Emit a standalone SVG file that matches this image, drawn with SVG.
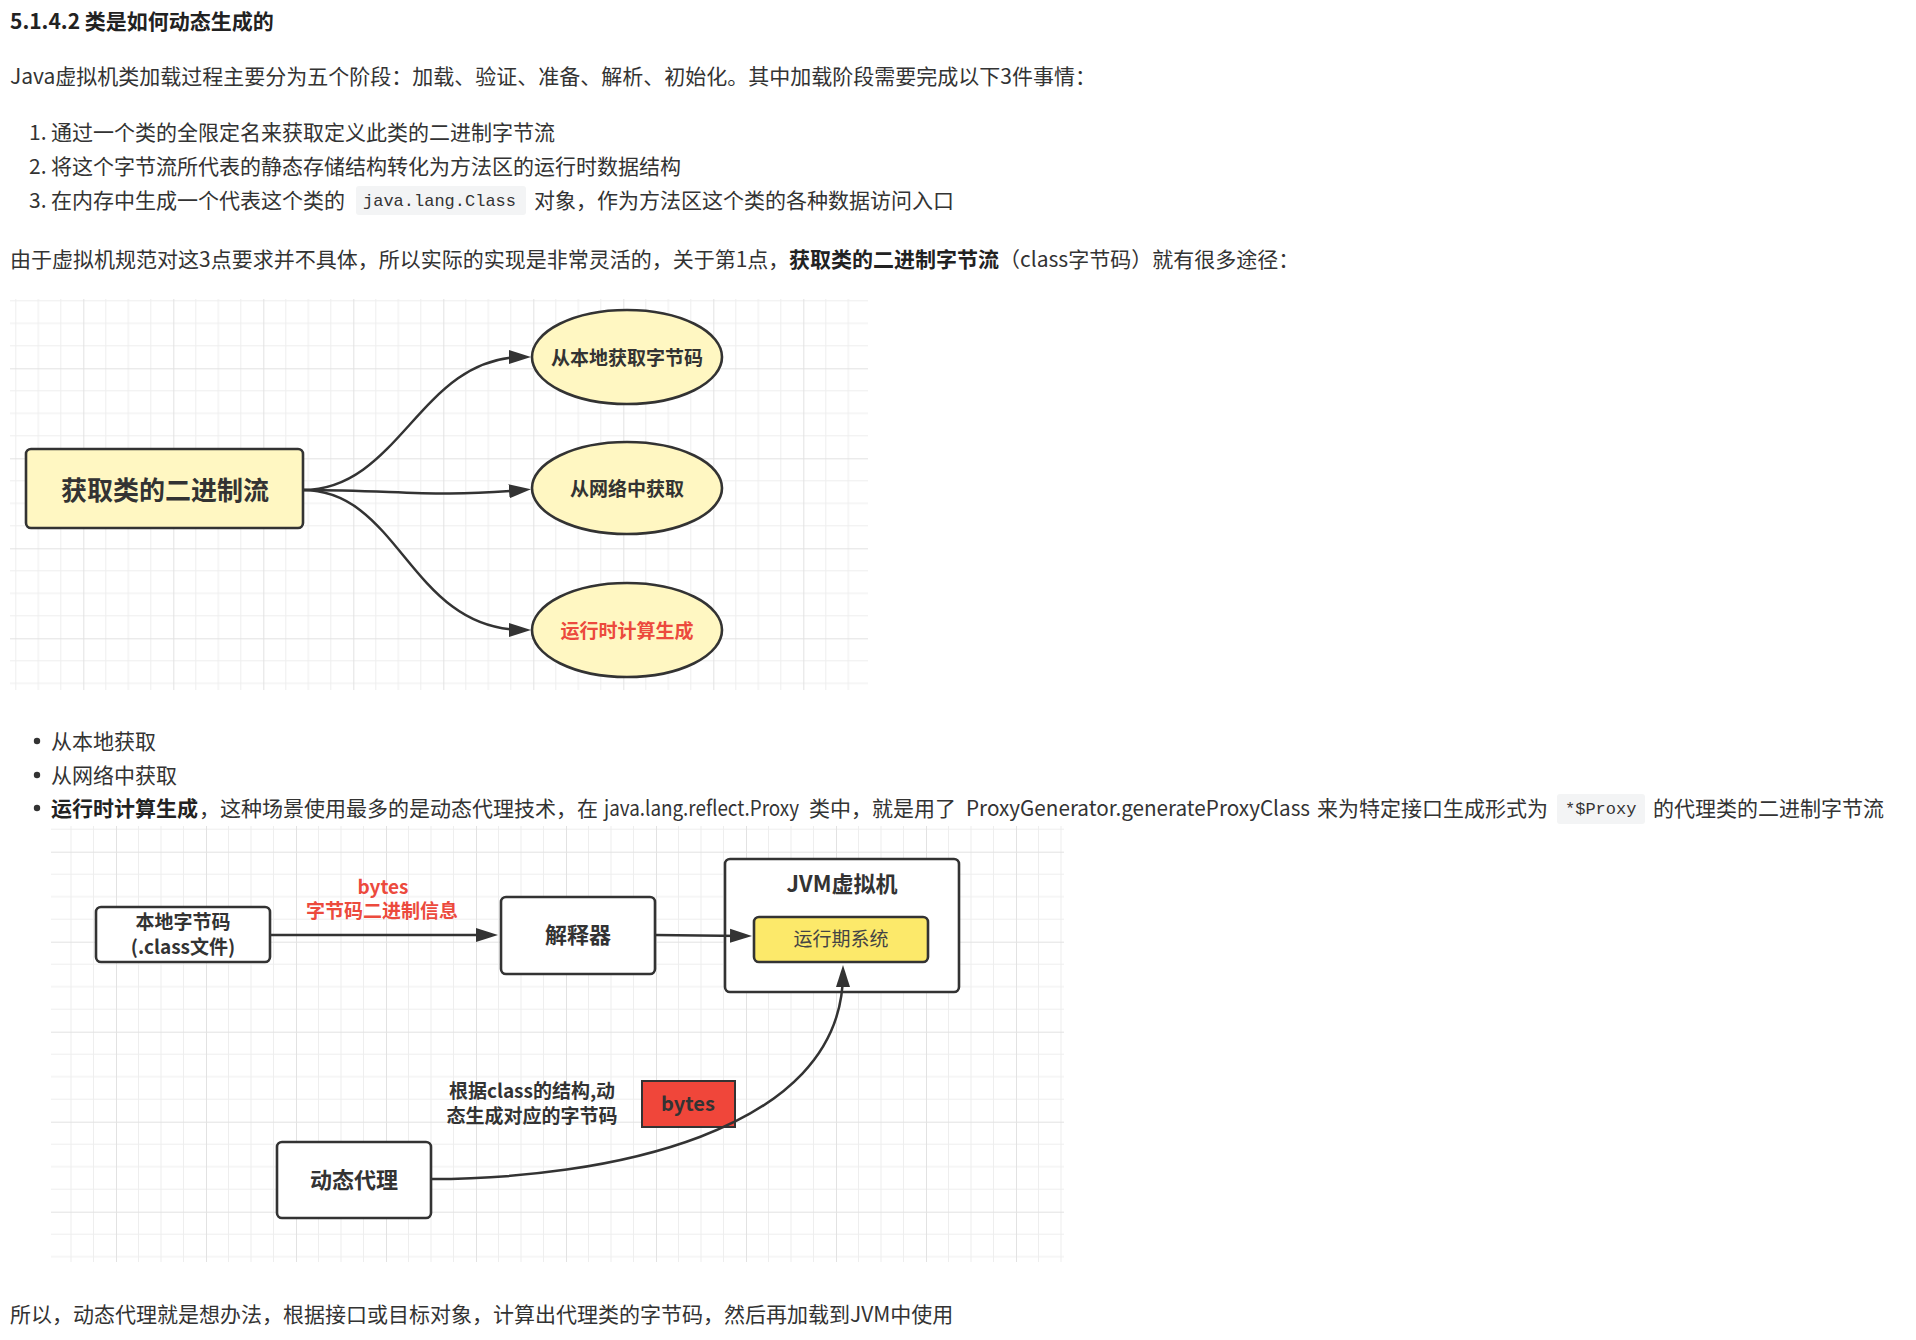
<svg xmlns="http://www.w3.org/2000/svg" width="1916" height="1340" viewBox="0 0 1916 1340">
  <style>
    .body { font-family: "Noto Sans CJK SC", "Noto Sans", sans-serif; font-size: 21px; fill: #333; }
    .h { font-family: "Noto Sans CJK SC", sans-serif; font-size: 21px; font-weight: 700; fill: #222; }
    .b { font-weight: 700; fill: #222; }
    .code { font-family: "Liberation Mono", "DejaVu Sans Mono", monospace; font-size: 17px; fill: #333; }
    .codebg { fill: #f3f4f5; }
    .lbl { font-family: "Noto Sans CJK SC", sans-serif; font-weight: 700; fill: #333; text-anchor: middle; dominant-baseline: central; }
    .red { fill: #ec4a3d; }
    .thin { font-weight: 400; fill: #444; }
    .shape { stroke: #333; stroke-width: 2.6; }
    .note { fill: #fff7c2; }
    .plain { fill: #fff; }
    .edge { fill: none; stroke: #333; stroke-width: 2.5; marker-end: url(#arrow); }
  </style>
  <defs>
    <marker id="arrow" viewBox="0 0 22 16" markerWidth="22" markerHeight="16" markerUnits="userSpaceOnUse" refX="14" refY="8" orient="auto">
      <path d="M0,1 L22,8 L0,15 z" fill="#333"/>
    </marker>
    <pattern id="grid1" patternUnits="userSpaceOnUse" x="83.3" y="368.3" width="90" height="90">
      <rect width="90" height="90" fill="#fff"/>
      <path d="M22.5 0V90M45 0V90M67.5 0V90M0 22.5H90M0 45H90M0 67.5H90" stroke="#eeeeee" stroke-width="1"/>
      <path d="M0.5 0V90M0 0.5H90" stroke="#e2e2e2" stroke-width="1"/>
    </pattern>
    <pattern id="grid2" patternUnits="userSpaceOnUse" x="116" y="851.7" width="90" height="90">
      <rect width="90" height="90" fill="#fff"/>
      <path d="M22.5 0V90M45 0V90M67.5 0V90M0 22.5H90M0 45H90M0 67.5H90" stroke="#eeeeee" stroke-width="1"/>
      <path d="M0.5 0V90M0 0.5H90" stroke="#e2e2e2" stroke-width="1"/>
    </pattern>
  </defs>

  <rect width="1916" height="1340" fill="#fff"/>

  <!-- article text -->
  <text class="h" x="10" y="28.5">5.1.4.2 类是如何动态生成的</text>
  <text class="body" x="10" y="84">Java虚拟机类加载过程主要分为五个阶段：加载、验证、准备、解析、初始化。其中加载阶段需要完成以下3件事情：</text>

  <text class="body" x="29" y="140">1.</text>
  <text class="body" x="51" y="140">通过一个类的全限定名来获取定义此类的二进制字节流</text>
  <text class="body" x="29" y="174">2.</text>
  <text class="body" x="51" y="174">将这个字节流所代表的静态存储结构转化为方法区的运行时数据结构</text>
  <text class="body" x="29" y="208">3.</text>
  <text class="body" x="51" y="208">在内存中生成一个代表这个类的</text>
  <rect class="codebg" x="356" y="186" width="170" height="29" rx="3"/>
  <text class="code" x="363" y="206">java.lang.Class</text>
  <text class="body" x="534" y="208">对象，作为方法区这个类的各种数据访问入口</text>

  <text class="body" x="10" y="267">由于虚拟机规范对这3点要求并不具体，所以实际的实现是非常灵活的，关于第1点，</text>
  <text class="body b" x="789" y="267">获取类的二进制字节流</text>
  <text class="body" x="999" y="267">（class字节码）就有很多途径：</text>

  <!-- sources of the class byte stream -->
  <rect x="10" y="299" width="858" height="391" fill="url(#grid1)"/>
  <g id="d1-source">
    <rect class="shape note" x="26" y="449" width="277" height="79" rx="5"/>
    <text class="lbl" x="165" y="488.5" font-size="26">获取类的二进制流</text>
  </g>
  <g id="d1-local">
    <ellipse class="shape note" cx="627" cy="357" rx="95" ry="47"/>
    <text class="lbl" x="627" y="356" font-size="19">从本地获取字节码</text>
  </g>
  <g id="d1-network">
    <ellipse class="shape note" cx="627" cy="488" rx="95" ry="46"/>
    <text class="lbl" x="627" y="487" font-size="19">从网络中获取</text>
  </g>
  <g id="d1-runtime">
    <ellipse class="shape note" cx="627" cy="630" rx="95" ry="47"/>
    <text class="lbl red" x="627" y="629" font-size="19">运行时计算生成</text>
  </g>
  <g id="d1-edges">
    <path class="edge" d="M303,490 C 400,490 420,357 523,357"/>
    <path class="edge" d="M303,490 C 400,490 430,498 523,490"/>
    <path class="edge" d="M303,490 C 400,490 410,630 523,630"/>
  </g>

  <!-- bullet list -->
  <circle cx="37" cy="741" r="3.2" fill="#333"/>
  <text class="body" x="51" y="748.5">从本地获取</text>
  <circle cx="37" cy="775" r="3.2" fill="#333"/>
  <text class="body" x="51" y="782.7">从网络中获取</text>
  <circle cx="37" cy="808" r="3.2" fill="#333"/>
  <text class="body b" x="51" y="815.7">运行时计算生成</text>
  <text class="body" x="199" y="815.7">，这种场景使用最多的是动态代理技术，在</text>
  <text class="body" x="604" y="815.7" textLength="195" lengthAdjust="spacingAndGlyphs">java.lang.reflect.Proxy</text>
  <text class="body" x="809" y="815.7">类中，就是用了</text>
  <text class="body" x="966" y="815.7" textLength="344" lengthAdjust="spacingAndGlyphs">ProxyGenerator.generateProxyClass</text>
  <text class="body" x="1317" y="815.7">来为特定接口生成形式为</text>
  <rect class="codebg" x="1557" y="794" width="88" height="30" rx="3"/>
  <text class="code" x="1565" y="814">*$Proxy</text>
  <text class="body" x="1653" y="815.7">的代理类的二进制字节流</text>

  <!-- class loading paths into the JVM -->
  <rect x="51" y="826" width="1013" height="436" fill="url(#grid2)"/>
  <g id="d2-bytes-label">
    <text class="lbl red" x="383" y="885" font-size="19">bytes</text>
    <text class="lbl red" x="382" y="909" font-size="19">字节码二进制信息</text>
  </g>
  <g id="d2-local">
    <rect class="shape plain" x="96" y="907" width="174" height="55" rx="5"/>
    <text class="lbl" x="183" y="920.5" font-size="19">本地字节码</text>
    <text class="lbl" x="183" y="945.5" font-size="19">(.class文件)</text>
  </g>
  <g id="d2-interpreter">
    <rect class="shape plain" x="501" y="897" width="154" height="77" rx="5"/>
    <text class="lbl" x="578" y="933" font-size="22">解释器</text>
  </g>
  <g id="d2-jvm">
    <rect class="shape plain" x="725" y="859" width="234" height="133" rx="5"/>
    <text class="lbl" x="842" y="882" font-size="22">JVM虚拟机</text>
  </g>
  <g id="d2-runtime">
    <rect class="shape" x="754" y="917" width="174" height="45" rx="5" fill="#fce96a"/>
    <text class="lbl thin" x="841" y="937.5" font-size="19">运行期系统</text>
  </g>
  <g id="d2-proxy">
    <rect class="shape plain" x="277" y="1142" width="154" height="76" rx="5"/>
    <text class="lbl" x="354" y="1177.5" font-size="22">动态代理</text>
  </g>
  <g id="d2-proxy-note">
    <text class="lbl" x="532" y="1089.5" font-size="19">根据class的结构,动</text>
    <text class="lbl" x="532" y="1114.5" font-size="19">态生成对应的字节码</text>
  </g>
  <g id="d2-bytes">
    <rect x="642" y="1081" width="93" height="46" fill="#f0463a" stroke="#333" stroke-width="2"/>
    <text class="lbl" x="688" y="1102" font-size="20">bytes</text>
  </g>
  <g id="d2-edges">
    <path class="edge" d="M270,935 L490,935"/>
    <path class="edge" d="M655,935 L744,936"/>
    <path class="edge" d="M431,1179 C 600,1179 843,1135 843,973"/>
  </g>

  <text class="body" x="10" y="1321.5">所以，动态代理就是想办法，根据接口或目标对象，计算出代理类的字节码，然后再加载到JVM中使用</text>
</svg>
